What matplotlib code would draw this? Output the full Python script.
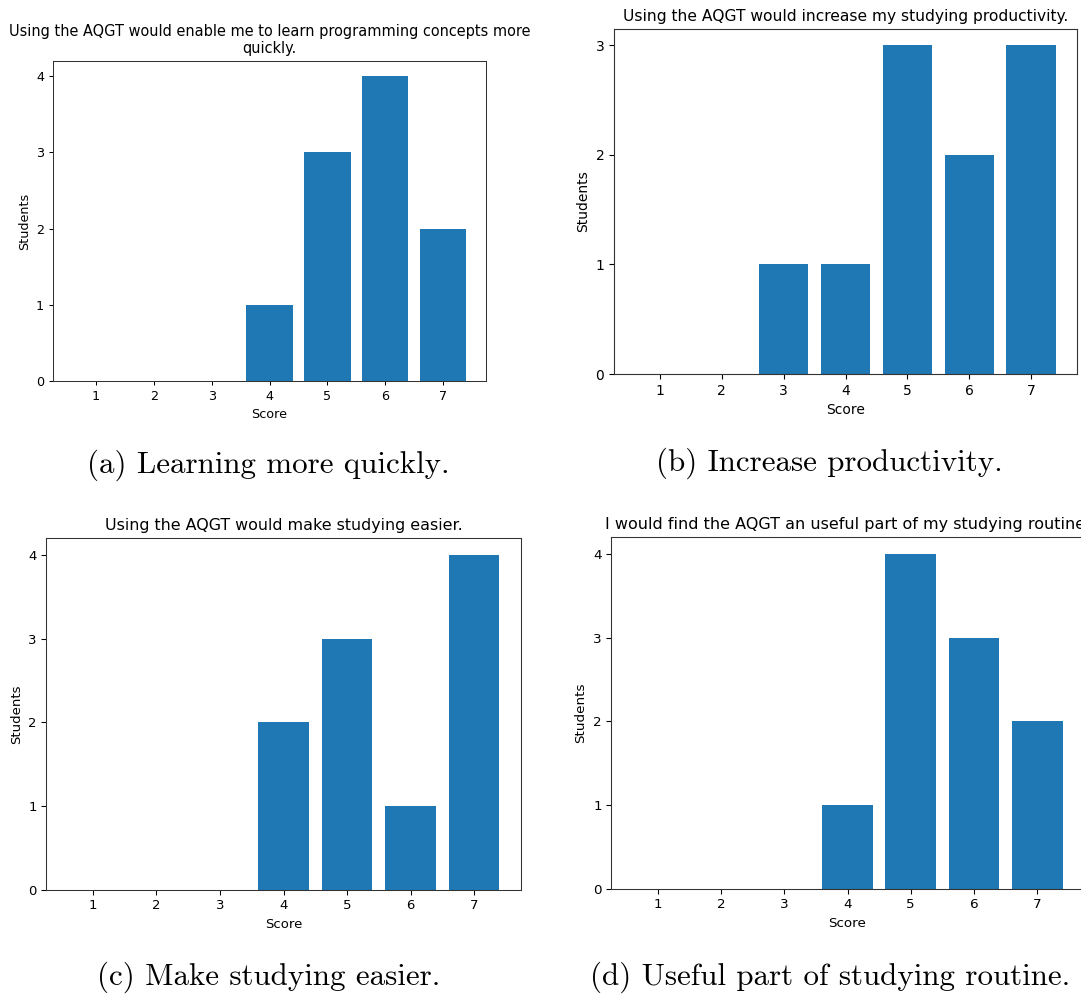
import matplotlib
matplotlib.use('Agg')
import matplotlib.pyplot as plt
from matplotlib.ticker import MaxNLocator

scores = [1, 2, 3, 4, 5, 6, 7]

learn_quickly = [0, 0, 0, 1, 3, 4, 2]
productivity = [0, 0, 1, 1, 3, 2, 3]
easier = [0, 0, 0, 2, 3, 1, 4]
routine = [0, 0, 0, 1, 4, 3, 2]

titles = [
    'Using the AQGT would enable me to learn programming concepts more\nquickly.',
    'Using the AQGT would increase my studying productivity.',
    'Using the AQGT would make studying easier.',
    'I would find the AQGT an useful part of my studying routine.',
]
captions = [
    '(a) Learning more quickly.',
    '(b) Increase productivity.',
    '(c) Make studying easier.',
    '(d) Useful part of studying routine.',
]

W, H = 1081, 1001
fig = plt.figure(figsize=(W / 100, H / 100), dpi=100)


def px_axes(left, top, right, bottom):
    # pixel box -> figure fraction
    return fig.add_axes([left / W, 1 - bottom / H, (right - left) / W, (bottom - top) / H])


def draw_panel(ax, values, title, s, ts):
    ax.bar(scores, values, width=0.8, color='#1f77b4')
    ax.set_xticks(scores)
    ax.yaxis.set_major_locator(MaxNLocator(integer=True))
    ax.set_title(title, fontsize=12 * ts, pad=6 * s)
    ax.set_xlabel('Score', fontsize=10 * s, labelpad=4 * s)
    ax.set_ylabel('Students', fontsize=10 * s, labelpad=4 * s)
    ax.tick_params(labelsize=10 * s, length=3.5 * s, width=0.8 * s, pad=3.5 * s)
    for sp in ax.spines.values():
        sp.set_linewidth(0.8 * s)
        sp.set_edgecolor('#333333')


ax_a = px_axes(53, 61, 486, 381)
draw_panel(ax_a, learn_quickly, titles[0], 0.92, 0.87)

ax_b = px_axes(614, 29, 1077, 374)
draw_panel(ax_b, productivity, titles[1], 1.0, 0.93)

ax_c = px_axes(46, 538, 521, 890)
draw_panel(ax_c, easier, titles[2], 0.95, 0.95)

ax_d = px_axes(611, 537, 1084, 889)
draw_panel(ax_d, routine, titles[3], 0.97, 0.96)

cap_pos = [(268, 465), (829, 463), (269, 977), (830, 977)]
for (x, y), cap in zip(cap_pos, captions):
    fig.text(x / W, 1 - y / H, cap, ha='center', va='center',
             family='cmr10', fontsize=22.3)

fig.savefig('out.png', dpi=100)
